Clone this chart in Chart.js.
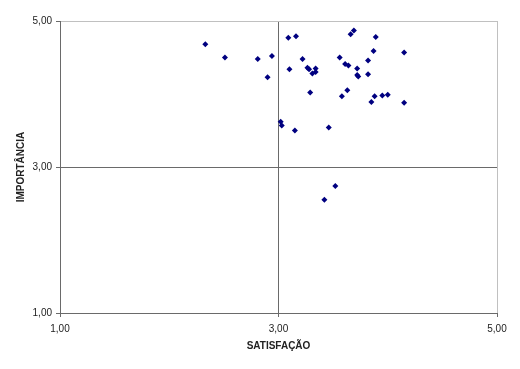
<!DOCTYPE html>
<html>
<head>
<meta charset="utf-8">
<script src="https://cdn.jsdelivr.net/npm/chart.js@4"></script>
<style>
html,body{margin:0;padding:0;background:#fff;}
canvas{display:block;}
</style>
</head>
<body>
<canvas id="c" width="520" height="369"></canvas>
<script>
const satisfacao = [2.33,2.51,2.81,2.94,2.90,3.09,3.16,3.22,3.10,3.265,3.28,3.34,3.31,3.34,3.29,3.02,3.03,3.15,3.66,3.69,3.89,3.87,4.15,3.56,3.82,3.61,3.64,3.72,3.72,3.73,3.82,3.63,3.58,3.88,3.95,4.00,3.85,4.15,3.46,3.52,3.42];
const importancia = [4.68,4.50,4.48,4.52,4.23,4.77,4.79,4.48,4.34,4.36,4.34,4.35,4.28,4.30,4.02,3.62,3.57,3.50,4.82,4.87,4.78,4.59,4.57,4.50,4.46,4.41,4.39,4.35,4.26,4.24,4.27,4.05,3.97,3.97,3.98,3.99,3.89,3.88,3.54,2.74,2.55];
const xTitle = 'SATISFAÇÃO';
const yTitle = 'IMPORTÂNCIA';
const axisMin = 1, axisMax = 5, axisStep = 2, crossValue = 3;

const points = satisfacao.map((x, i) => ({x: x, y: importancia[i]}));
const fmt = v => Number(v).toFixed(2).replace('.', ',');
const dark = '#6a6a6a', light = '#c0c0c0';
const gridColor = ctx => {
  const v = ctx.tick && ctx.tick.value;
  if (v === crossValue) return dark;
  if (v === axisMax) return light;
  return 'rgba(0,0,0,0)';
};
const tickFont = {family: '"Liberation Sans", Arial, sans-serif', size: 10};
const titleFont = {family: '"Liberation Sans", Arial, sans-serif', size: 10, weight: 'bold'};

new Chart(document.getElementById('c'), {
  type: 'scatter',
  data: {
    datasets: [{
      data: points,
      pointStyle: 'rectRot',
      pointRadius: 3,
      pointBorderWidth: 0,
      backgroundColor: '#000080',
      borderColor: '#000080'
    }]
  },
  options: {
    responsive: false,
    animation: false,
    layout: {padding: {left: 0, top: 21, right: 23, bottom: 0}},
    plugins: {legend: {display: false}, tooltip: {enabled: false}},
    scales: {
      x: {
        type: 'linear', min: axisMin, max: axisMax,
        afterFit: s => { s.height = 56; },
        ticks: {stepSize: axisStep, callback: fmt, font: tickFont, color: '#222', padding: 6, maxRotation: 0},
        grid: {color: gridColor, tickColor: dark, drawTicks: true, tickLength: 4, lineWidth: 1},
        border: {display: true, color: dark, width: 1},
        title: {display: true, text: xTitle, font: titleFont, color: '#222', padding: {top: 4, bottom: 17}}
      },
      y: {
        type: 'linear', min: axisMin, max: axisMax,
        afterFit: s => { s.width = 60; },
        ticks: {stepSize: axisStep, callback: fmt, font: tickFont, color: '#222', padding: 4},
        grid: {color: gridColor, tickColor: dark, drawTicks: true, tickLength: 4, lineWidth: 1},
        border: {display: true, color: dark, width: 1},
        title: {display: true, text: yTitle, font: titleFont, color: '#222', padding: {top: 15, bottom: 0}}
      }
    }
  }
});
</script>
</body>
</html>
